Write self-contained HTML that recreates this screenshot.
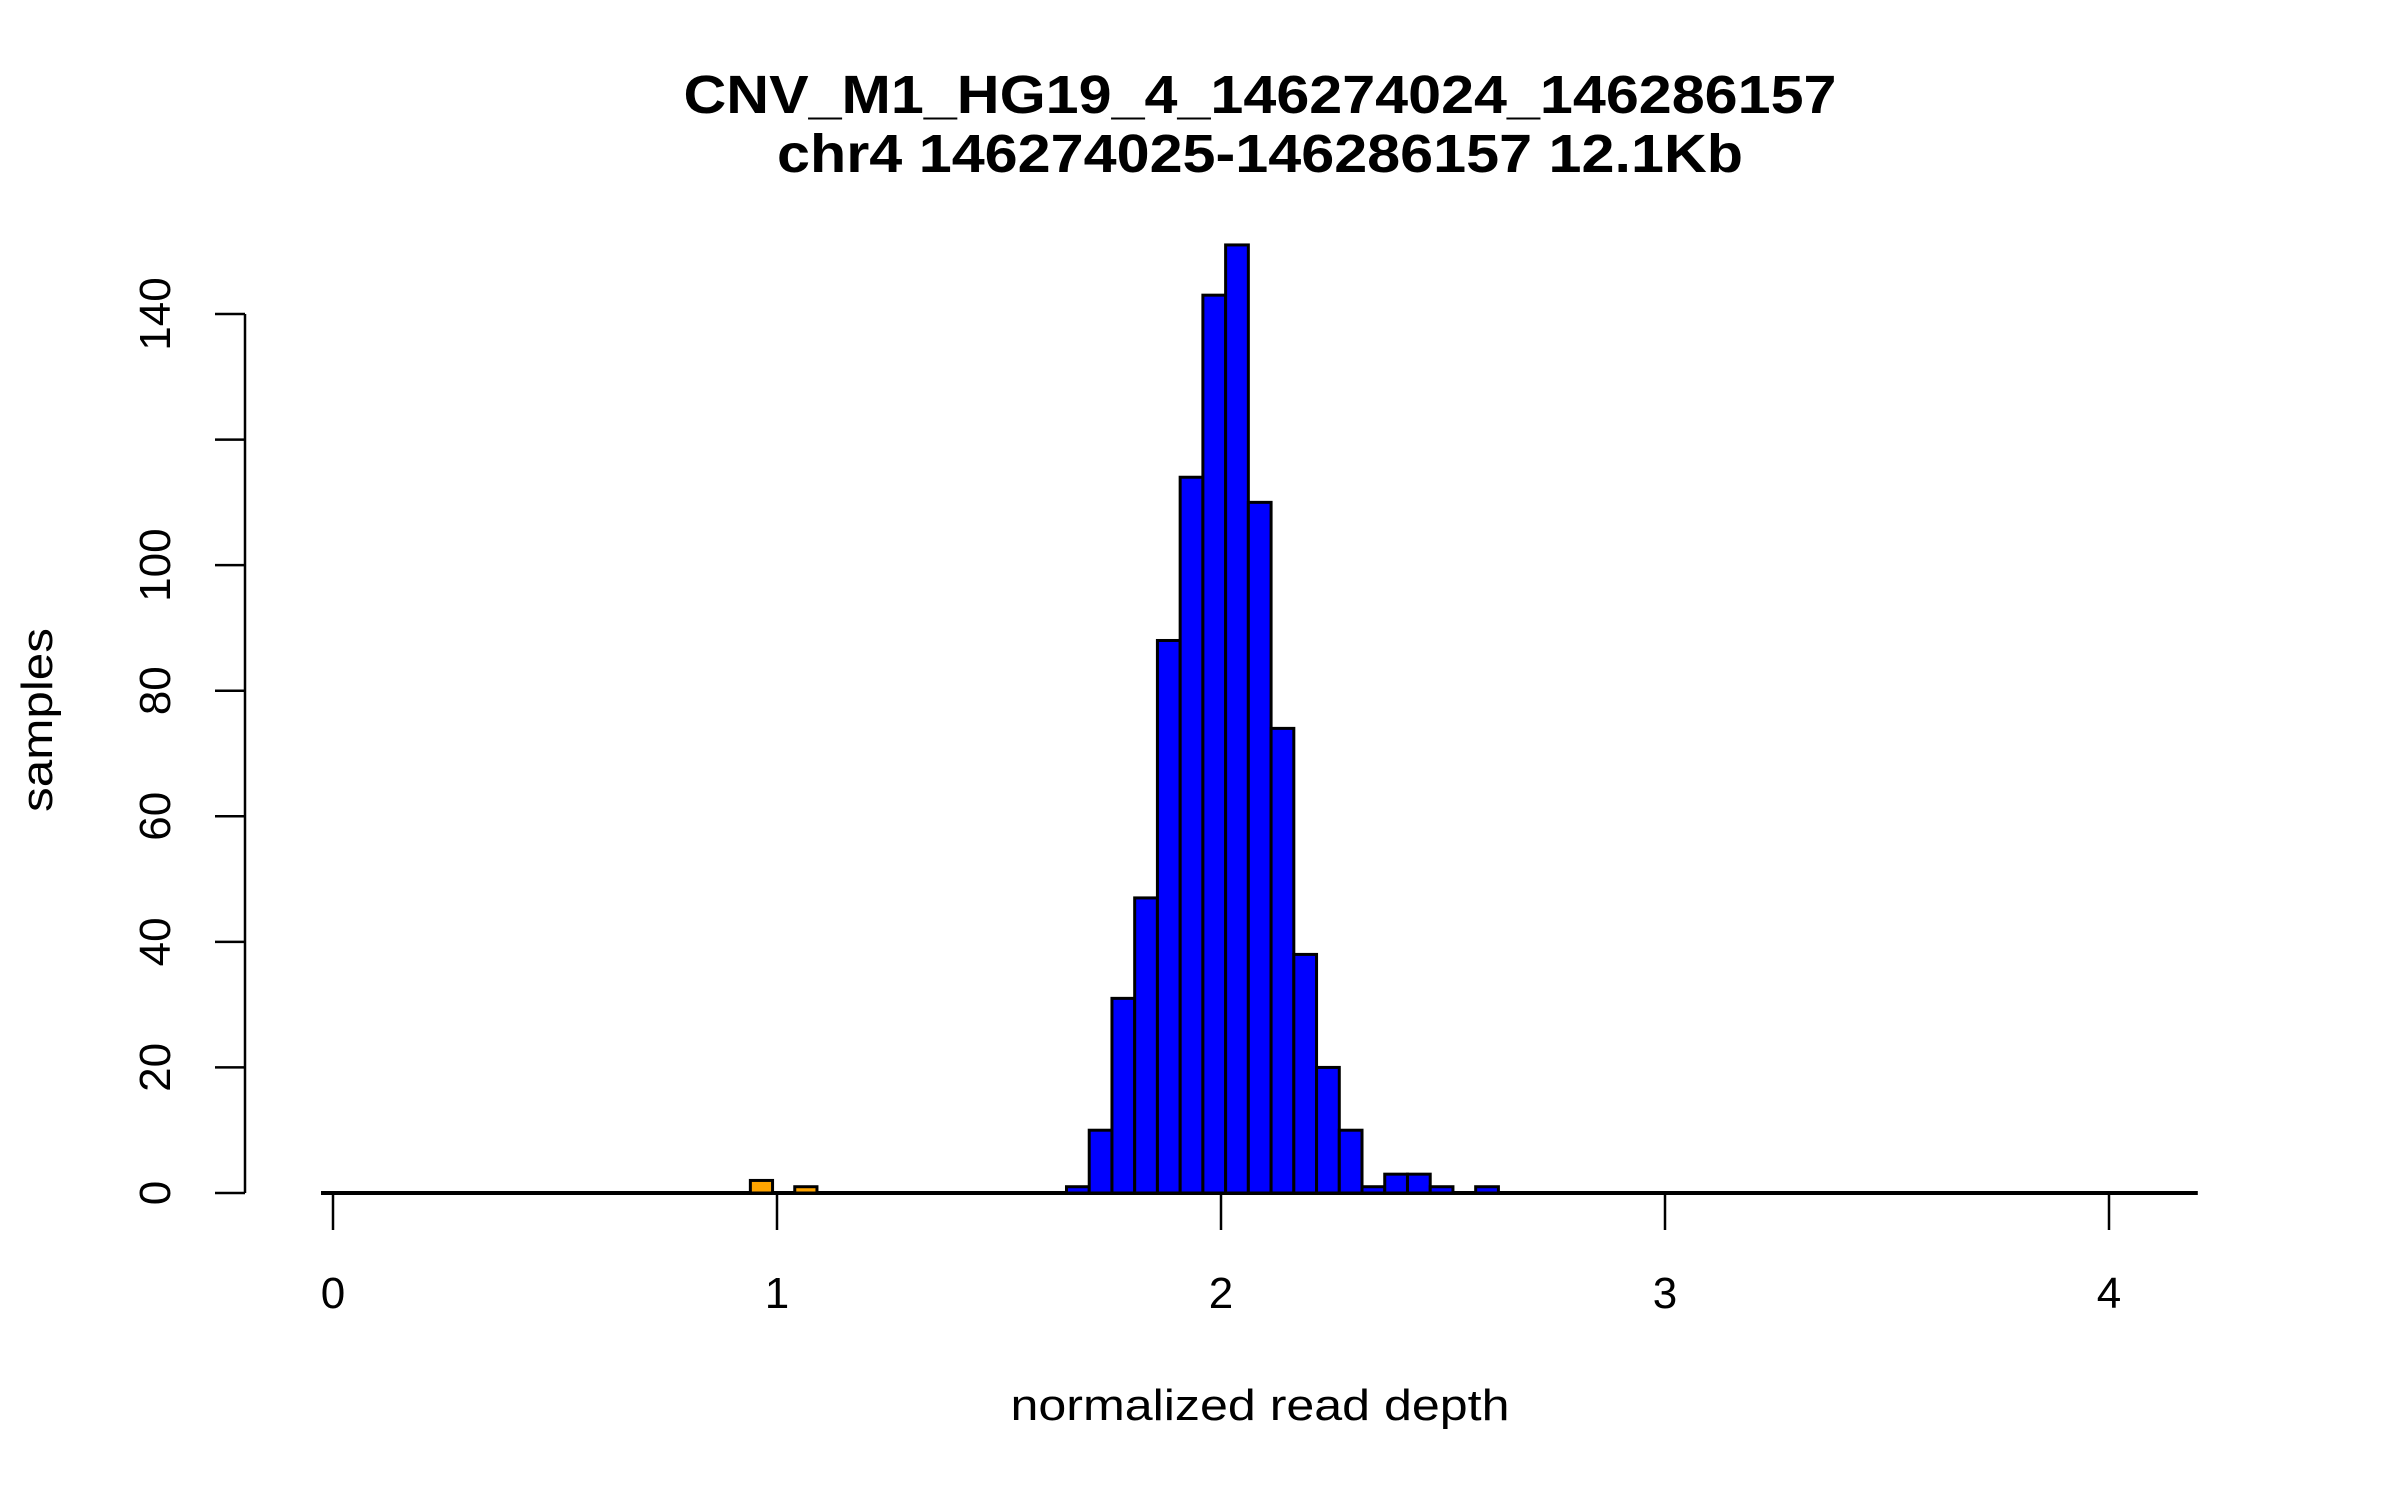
<!DOCTYPE html>
<html><head><meta charset="utf-8"><style>
html,body{margin:0;padding:0;background:#fff;}
svg{display:block;font-family:"Liberation Sans",sans-serif;}
</style></head><body>
<svg id="chart" width="2400" height="1500" viewBox="0 0 2400 1500" xmlns="http://www.w3.org/2000/svg">
<text x="1260" y="113" text-anchor="middle" font-weight="bold" font-size="54" textLength="1153" lengthAdjust="spacingAndGlyphs">CNV_M1_HG19_4_146274024_146286157</text>
<text x="1260" y="172" text-anchor="middle" font-weight="bold" font-size="54" textLength="966" lengthAdjust="spacingAndGlyphs">chr4 146274025-146286157 12.1Kb</text>
<g id="bars"></g>
<g id="axes"></g>
<text x="1260" y="1420" text-anchor="middle" font-size="44" textLength="499" lengthAdjust="spacingAndGlyphs">normalized read depth</text>
<text x="0" y="0" transform="translate(52,720) rotate(-90)" text-anchor="middle" font-size="44" textLength="184" lengthAdjust="spacingAndGlyphs">samples</text>
</svg>
<script>
const binStarts = [0.94, 1.04, 1.652, 1.7032, 1.7544, 1.8056, 1.8568, 1.908, 1.9592, 2.0104, 2.0616, 2.1128, 2.164, 2.2152, 2.2664, 2.3176, 2.3688, 2.42, 2.4712, 2.5736];
const binWidths = [0.05, 0.05, 0.0512, 0.0512, 0.0512, 0.0512, 0.0512, 0.0512, 0.0512, 0.0512, 0.0512, 0.0512, 0.0512, 0.0512, 0.0512, 0.0512, 0.0512, 0.0512, 0.0512, 0.0512];
const counts    = [2, 1, 1, 10, 31, 47, 88, 114, 143, 151, 110, 74, 38, 20, 10, 1, 3, 3, 1, 1];
const colors    = ["orange","orange","blue","blue","blue","blue","blue","blue","blue","blue","blue","blue","blue","blue","blue","blue","blue","blue","blue","blue"];
const xTicks = [0, 1, 2, 3, 4];
const yTicks = [0, 20, 40, 60, 80, 100, 120, 140];
const yTickLabels = ["0", "20", "40", "60", "80", "100", "", "140"];

const NS = "http://www.w3.org/2000/svg";
function xs(v){ return 333 + v * 444; }
function ys(v){ return 1193 - v * (879 / 140); }
function mk(tag, attrs, parent){
  const e = document.createElementNS(NS, tag);
  for (const k in attrs) e.setAttribute(k, attrs[k]);
  parent.appendChild(e);
  return e;
}
const bars = document.getElementById("bars");
const axes = document.getElementById("axes");

const base = mk("line", {x1: xs(-0.027), x2: xs(4.2), y1: ys(0), y2: ys(0), stroke: "#000", "stroke-width": 4}, bars);



binStarts.forEach((b, i) => {
  const x0 = xs(b), x1 = xs(b + binWidths[i]), y = ys(counts[i]);
  const r = mk("rect", {x: x0, y: y, width: x1 - x0, height: ys(0) - y, fill: colors[i], stroke: "#000", "stroke-width": 3}, bars);
  
  
});

xTicks.forEach(t => {
  const tk = mk("line", {x1: xs(t), x2: xs(t), y1: 1193, y2: 1230, stroke: "#000", "stroke-width": 2.5}, axes);
  
  
  const tl = mk("text", {x: xs(t), y: 1308, "text-anchor": "middle", "font-size": 44}, axes);
  tl.textContent = String(t);
  
  
});

const yl = mk("line", {x1: 245, x2: 245, y1: ys(0), y2: ys(140), stroke: "#000", "stroke-width": 2.5}, axes);


yTicks.forEach((t, i) => {
  const tk = mk("line", {x1: 215, x2: 245, y1: ys(t), y2: ys(t), stroke: "#000", "stroke-width": 2.5}, axes);
  
  
  if (yTickLabels[i]) {
    const tl = mk("text", {x: 0, y: 0, transform: "translate(170," + ys(t) + ") rotate(-90)", "text-anchor": "middle", "font-size": 44}, axes);
    tl.textContent = yTickLabels[i];
    
    
  }
});
</script>
</body></html>
